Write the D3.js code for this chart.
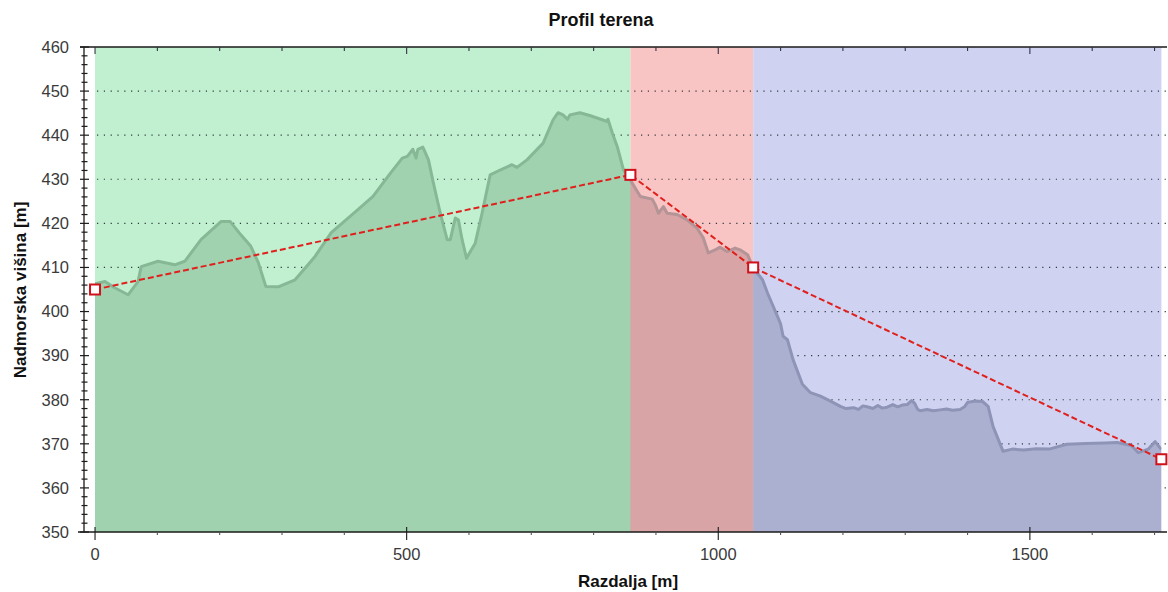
<!DOCTYPE html>
<html>
<head>
<meta charset="utf-8">
<script src="https://cdn.jsdelivr.net/npm/d3@7"></script>
<style>
  html, body { margin: 0; padding: 0; background: #ffffff; }
  svg { display: block; font-family: "Liberation Sans", Arial, sans-serif; }
</style>
</head>
<body>
<svg id="chart" width="1168" height="592"></svg>
<script>
// ---- data ----
const distances = [0, 16, 30, 53, 69, 74, 101, 128, 144, 170, 202, 217, 234, 250, 262, 274, 294, 321, 353, 379,
  425, 446, 474, 493, 501, 510, 515, 518, 526, 535, 543, 554, 565, 570, 578, 583, 589, 596, 610, 621,
  634, 650, 669, 677, 693, 719, 735, 743, 751, 758, 762, 778, 795, 822, 823, 830, 838, 848, 856, 859,
  875, 894, 899, 904, 912, 918, 934, 950, 966, 976, 984, 995, 1003, 1014, 1027, 1035, 1047, 1056, 1071, 1079,
  1095, 1100, 1104, 1111, 1120, 1135, 1148, 1164, 1180, 1196, 1205, 1217, 1225, 1232, 1239, 1248, 1256, 1263, 1271, 1280,
  1288, 1295, 1303, 1310, 1315, 1320, 1324, 1335, 1345, 1356, 1366, 1376, 1388, 1395, 1400, 1412, 1424, 1433, 1441, 1457,
  1472, 1490, 1510, 1531, 1559, 1590, 1620, 1640, 1663, 1674, 1690, 1701, 1711];
const elevations = [406.3, 406.8, 405.5, 403.8, 406.8, 410.2, 411.4, 410.6, 411.4, 416.3, 420.4, 420.4, 417.4, 414.8, 411.1, 405.7, 405.6, 407.2, 412.5, 417.9,
  423.5, 426.1, 431.4, 434.8, 435.2, 436.8, 434.8, 436.8, 437.3, 434.4, 429.1, 422.3, 416.3, 416.3, 421.2, 420.8, 416.3, 412.1, 415.5, 422.3,
  431.0, 432.1, 433.3, 432.7, 434.4, 438.2, 443.5, 445.1, 444.6, 443.6, 444.6, 445.1, 444.4, 443.1, 443.6, 440.5, 437.4, 432.1, 430.6, 429.8,
  426.1, 425.5, 424.2, 422.3, 423.8, 422.3, 422.0, 420.8, 418.9, 416.7, 413.3, 414.0, 414.6, 413.6, 414.4, 414.0, 412.9, 409.9, 407.2, 404.2,
  398.9, 397.2, 394.4, 393.6, 389.1, 383.5, 381.6, 380.8, 379.7, 378.5, 378.0, 378.2, 377.8, 378.6, 378.4, 378.0, 378.7, 378.1, 378.3, 378.9,
  378.4, 378.8, 378.9, 379.8, 379.2, 377.8, 377.5, 377.8, 377.5, 377.7, 377.9, 377.6, 377.8, 378.4, 379.4, 379.7, 379.6, 378.5, 373.9, 368.3,
  368.8, 368.6, 368.9, 368.8, 369.9, 370.1, 370.2, 370.3, 369.6, 368.0, 368.8, 370.5, 368.7];

const segmentNames = ["Odsek 1", "Odsek 2", "Odsek 3"];
const segmentBreaks = [0, 859, 1056, 1711];
const segmentPointElev = [405, 431, 410, 366.5];

const yTicks = [350, 360, 370, 380, 390, 400, 410, 420, 430, 440, 450, 460];
const xTicks = [0, 500, 1000, 1500];

// ---- styling ----
const bandBg = ["#c0f0d0", "#f8c4c4", "#d0d2f2"];
const bandFill = ["#a0d2b0", "#d8a4a6", "#acb0d0"];
const bandLine = ["#86b896", "#b49496", "#8e94b6"];

const svg = d3.select("#chart");
const x = d3.scaleLinear().domain([-17.7, 1720]).range([84, 1167]);
const y = d3.scaleLinear().domain([350, 460]).range([532, 47]);

const profile = distances.map((d, i) => ({ d, e: elevations[i] }));

// background bands
segmentNames.forEach((name, i) => {
  svg.append("rect")
    .attr("x", x(segmentBreaks[i]))
    .attr("y", y(460))
    .attr("width", x(segmentBreaks[i + 1]) - x(segmentBreaks[i]))
    .attr("height", y(350) - y(460))
    .attr("fill", bandBg[i]);
  svg.append("clipPath").attr("id", "clip" + i)
    .append("rect")
    .attr("x", x(segmentBreaks[i]))
    .attr("y", y(460))
    .attr("width", x(segmentBreaks[i + 1]) - x(segmentBreaks[i]) + (i < 2 ? 0.5 : 0))
    .attr("height", y(350) - y(460));
});

// grid lines
svg.append("g").selectAll("line")
  .data(yTicks.filter(t => t > 350 && t < 460))
  .join("line")
  .attr("x1", x(0) + 2).attr("x2", 1167)
  .attr("y1", d => y(d)).attr("y2", d => y(d))
  .attr("stroke", "#303838")
  .attr("stroke-width", 1.2)
  .attr("stroke-dasharray", "1.2,5.6");

// area + line per band
const area = d3.area().x(p => x(p.d)).y0(y(350)).y1(p => y(p.e));
const line = d3.line().x(p => x(p.d)).y(p => y(p.e));
segmentNames.forEach((name, i) => {
  const g = svg.append("g").attr("clip-path", `url(#clip${i})`);
  g.append("path").datum(profile).attr("d", area).attr("fill", bandFill[i]);
  g.append("path").datum(profile).attr("d", line)
    .attr("fill", "none").attr("stroke", bandLine[i]).attr("stroke-width", 3)
    .attr("stroke-linejoin", "round");
});

// axes
const axisColor = "#1a1a1a";
svg.append("line").attr("x1", 84).attr("x2", 84).attr("y1", y(460)).attr("y2", y(350))
  .attr("stroke", axisColor).attr("stroke-width", 1.3);
svg.append("line").attr("x1", 78).attr("x2", 1167).attr("y1", y(350)).attr("y2", y(350))
  .attr("stroke", axisColor).attr("stroke-width", 1.3);
svg.append("line").attr("x1", 80).attr("x2", 1167).attr("y1", y(460)).attr("y2", y(460))
  .attr("stroke", axisColor).attr("stroke-width", 1.3);

// y minor ticks (every 2 m)
const yMinor = d3.range(350, 461, 2);
svg.append("g").selectAll("line").data(yMinor).join("line")
  .attr("x1", d => (d % 10 === 0 ? 80 : 81.5)).attr("x2", d => (d % 10 === 0 ? 89 : 87.5))
  .attr("y1", d => y(d)).attr("y2", d => y(d))
  .attr("stroke", axisColor).attr("stroke-width", 1.2);

// y labels
svg.append("g").selectAll("text").data(yTicks).join("text")
  .attr("x", 69).attr("y", d => y(d)).attr("dy", "0.35em")
  .attr("text-anchor", "end").attr("font-size", 16.5).attr("fill", "#3a3a3a")
  .text(d => d);

// x minor ticks every 100
const xMinor = d3.range(0, 1720, 100);
svg.append("g").selectAll("line").data(xMinor).join("line")
  .attr("x1", d => x(d)).attr("x2", d => x(d))
  .attr("y1", d => (d % 500 === 0 ? y(350) - 5 : y(350)))
  .attr("y2", d => (d % 500 === 0 ? y(350) + 8 : y(350) + 3))
  .attr("stroke", d => (d % 500 === 0 ? axisColor : "#555"))
  .attr("stroke-width", 1.1);
svg.append("g").selectAll("line").data(xMinor).join("line")
  .attr("x1", d => x(d)).attr("x2", d => x(d))
  .attr("y1", y(460)).attr("y2", d => (d % 500 === 0 ? y(460) + 7 : y(460) + 4))
  .attr("stroke", "#334").attr("stroke-width", 1.1);

// x labels
svg.append("g").selectAll("text").data(xTicks).join("text")
  .attr("x", d => x(d)).attr("y", 554).attr("dy", "0.35em")
  .attr("text-anchor", "middle").attr("font-size", 16.5).attr("fill", "#3a3a3a")
  .text(d => d);

// dashed segment line
const segPts = segmentBreaks.map((d, i) => ({ d, e: segmentPointElev[i] }));
svg.append("path").datum(segPts).attr("d", line)
  .attr("fill", "none").attr("stroke", "#e0201c").attr("stroke-width", 2)
  .attr("stroke-dasharray", "6,3");
svg.append("g").selectAll("rect").data(segPts).join("rect")
  .attr("x", p => x(p.d) - 5).attr("y", p => y(p.e) - 5)
  .attr("width", 10).attr("height", 10)
  .attr("fill", "#ffffff").attr("stroke", "#d0101a").attr("stroke-width", 2);

// titles
svg.append("text").attr("x", 601).attr("y", 20).attr("dy", "0.35em")
  .attr("text-anchor", "middle").attr("font-size", 18).attr("font-weight", "bold").attr("fill", "#111")
  .text("Profil terena");
svg.append("text").attr("x", 628).attr("y", 581).attr("dy", "0.35em")
  .attr("text-anchor", "middle").attr("font-size", 17).attr("font-weight", "bold").attr("fill", "#111")
  .text("Razdalja [m]");
svg.append("text").attr("transform", "translate(20,290) rotate(-90)").attr("dy", "0.35em")
  .attr("text-anchor", "middle").attr("font-size", 17).attr("font-weight", "bold").attr("fill", "#111")
  .text("Nadmorska višina [m]");
</script>
</body>
</html>
